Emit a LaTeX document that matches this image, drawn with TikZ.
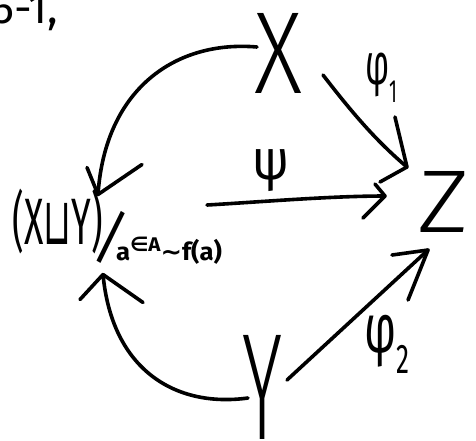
\documentclass[tikz,border=0pt]{standalone}
\usepackage{fontspec}
\usepackage{graphicx}
\IfFontExistsTF{Fira Sans Light}{\newfontfamily\hand{Fira Sans Light}}{\newfontfamily\hand{Fira Sans}}
\newfontfamily\handm{Fira Sans}
\newfontfamily\symf{DejaVu Sans}
\tikzset{
  lbl/.style={inner sep=0pt, outer sep=0pt, font=\hand},
  lblm/.style={inner sep=0pt, outer sep=0pt, font=\handm},
  con/.style={line width=3.6pt, line cap=round, line join=round},
}
\begin{document}
\begin{tikzpicture}[x=1pt,y=-1pt]
\fill[white] (0,0) rectangle (476,440);
\useasboundingbox (0,0) rectangle (476,440);

% header fragment (cut off at top, as in the reference)
\node[lblm, anchor=base west] (hdr) at (-8,23) {\fontsize{44}{44}\selectfont 5-1,};

% objects
\node[lbl] (X) at (279,53) {\resizebox*{48pt}{80pt}{X}};
\node[lbl] (Z) at (444,202) {\resizebox*{52pt}{61pt}{Z}};
\node[lbl] (Y) at (263,387) {\resizebox*{40pt}{104pt}{Y}};
\node[lblm] (Q) at (58,222) {\resizebox*{90pt}{65pt}{(X{\symf ⊔}Y)}};
\node[lblm] (sl) at (111.5,237.5) {\resizebox*{40pt}{62pt}{\rotatebox{-14}{/}}};
\node[lblm] (sub) at (169,250.5) {\resizebox*{106pt}{27pt}{\bfseries a\raisebox{0.35em}{\scalebox{0.8}{{\symf ∈}A}}{\symf ∼}f(a)}};

% labels
\node[lblm] (psi) at (271,171) {\resizebox*{37pt}{42pt}{ψ}};
\node[lblm] (phi1) at (381,77.5) {\resizebox*{32pt}{49pt}{φ\raisebox{-0.3em}{\scalebox{0.55}{1}}}};
\node[lblm] (phi2) at (387,344) {\resizebox*{45pt}{58pt}{φ\raisebox{-0.3em}{\scalebox{0.6}{2}}}};

% X -> quotient
\coordinate (tA) at ([shift={(-5,5)}]Q.north east);
\draw[con] ([shift={(2,-6)}]X.west) .. controls +(-82,-7) and +(7,-105) .. (tA);
\draw[con] (tA) ++(-11,-27) -- (tA) -- ++(44,-30);

% Y -> quotient
\coordinate (tB) at ([shift={(0,20)}]Q.south east);
\draw[con] ([shift={(5,11)}]Y.west) .. controls +(-73,10) and +(9,95) .. (tB);
\draw[con] (tB) ++(-23,25) -- (tB) -- ++(40,28);

% psi: quotient -> Z
\coordinate (tC) at ([shift={(-33,-6)}]Z.west);
\draw[con] ([shift={(-15,-32)}]sub.north east) .. controls +(53,-3) and +(-55,0) .. (tC);
\draw[con] (tC) ++(-10,-12) -- (tC) -- ++(-22,22);

% phi1: X -> Z
\coordinate (tD) at ([shift={(-11,-4.5)}]Z.north west);
\draw[con] ([shift={(20,22)}]X.east) .. controls +(27,35) and +(-32,-27) .. (tD);
\draw[con] (tD) ++(-12,-50) -- (tD) -- ++(-27,15);

% phi2: Y -> Z
\coordinate (tE) at ([shift={(-16,17.5)}]Z.south);
\draw[con] ([shift={(4,-7)}]Y.east) -- (tE);
\draw[con] (tE) ++(-36,5) -- (tE) -- ++(-20,50);
\end{tikzpicture}
\end{document}
